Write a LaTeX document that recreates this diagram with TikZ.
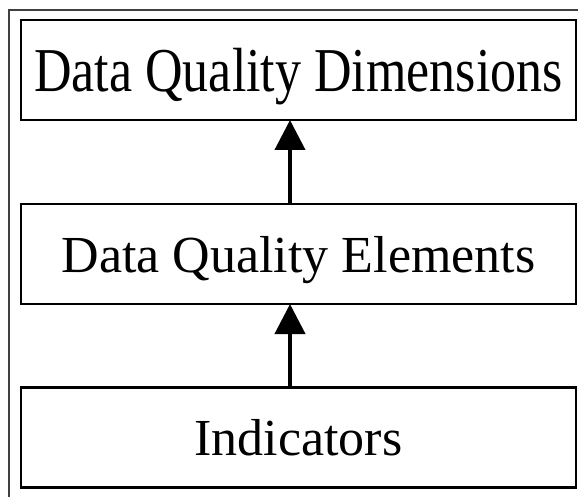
\documentclass[tikz,border=0pt]{standalone}
\usepackage{fontspec}
\setmainfont{Liberation Serif}
\usepackage{tikz}
\usetikzlibrary{arrows.meta}

\begin{document}
\begin{tikzpicture}[x=1pt,y=1pt,
    every node/.style={draw=black, line width=2.5pt, minimum width=555pt, minimum height=100pt,
      inner sep=0pt, outer sep=0pt, text depth=0pt, font=\fontsize{52}{60}\selectfont},
    uparrow/.style={line width=4pt, -{Triangle[width=30pt,length=30pt]}}]
      \clip (0,0) rectangle (578,496);
      \draw[color=black!75, line width=1.2pt] (9,486) rectangle (640,-40);
      \node (dims) at (298.5,426) {\scalebox{1}[1.2]{Data Quality Dimensions}};
      \node (elems) at (298.5,242) {Data Quality Elements};
      \node (inds) at (298.5,58.5) {Indicators};
      \coordinate (ax) at (290,0);
      \draw[uparrow] (elems.north -| ax) -- (dims.south -| ax);
      \draw[uparrow] (inds.north -| ax) -- (elems.south -| ax);
    \end{tikzpicture}
\end{document}
